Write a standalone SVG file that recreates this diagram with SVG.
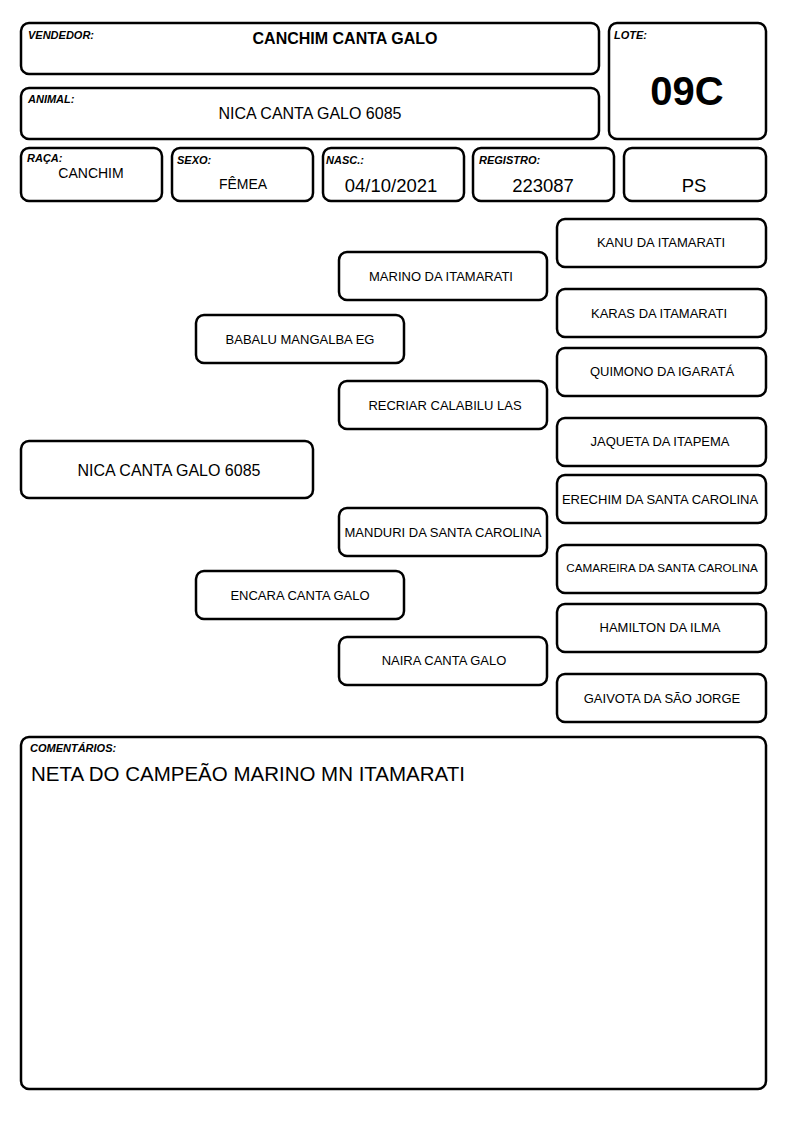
<svg xmlns="http://www.w3.org/2000/svg" width="794" height="1123" viewBox="0 0 794 1123">
<style>
.b{fill:#fff;stroke:#000;stroke-width:2.5}
.l{font-family:"Liberation Sans",Arial,sans-serif;font-size:11px;font-weight:bold;font-style:italic;fill:#000}
.t{font-family:"Liberation Sans",Arial,sans-serif;fill:#000;text-anchor:middle}
.p{font-family:"Liberation Sans",Arial,sans-serif;font-size:13px;fill:#000;text-anchor:middle}
.s{font-size:11.7px}
</style>
<rect width="794" height="1123" fill="#fff"/>
<g id="vendedor"><rect class="b" x="21" y="23" width="578" height="51" rx="8"/><text class="l" x="28" y="39">VENDEDOR:</text><text class="t" x="345" y="44" font-size="16" font-weight="bold">CANCHIM CANTA GALO</text></g>
<g id="lote"><rect class="b" x="609" y="23" width="157" height="116" rx="8"/><text class="l" x="614" y="39">LOTE:</text><text class="t" x="687" y="105" font-size="40" font-weight="bold">09C</text></g>
<g id="animal"><rect class="b" x="21" y="88" width="578" height="51" rx="8"/><text class="l" x="28" y="103">ANIMAL:</text><text class="t" x="310" y="119" font-size="16">NICA CANTA GALO 6085</text></g>
<g id="raca"><rect class="b" x="21" y="148" width="141" height="53" rx="8"/><text class="l" x="27" y="162">RAÇA:</text><text class="t" x="91" y="178" font-size="14">CANCHIM</text></g>
<g id="sexo"><rect class="b" x="172" y="148" width="141" height="53" rx="8"/><text class="l" x="177" y="164">SEXO:</text><text class="t" x="243" y="189" font-size="14">FÊMEA</text></g>
<g id="nasc"><rect class="b" x="323" y="148" width="141" height="53" rx="8"/><text class="l" x="326" y="164">NASC.:</text><text class="t" x="391" y="192" font-size="18.5">04/10/2021</text></g>
<g id="registro"><rect class="b" x="473" y="148" width="141" height="53" rx="8"/><text class="l" x="479" y="164">REGISTRO:</text><text class="t" x="543" y="192" font-size="18.5">223087</text></g>
<g id="ps"><rect class="b" x="624" y="148" width="142" height="53" rx="8"/><text class="t" x="694" y="192" font-size="18.5">PS</text></g>
<g id="n-nica"><rect class="b" x="21" y="441" width="292" height="57" rx="8"/><text class="t" x="169" y="476" font-size="16">NICA CANTA GALO 6085</text></g>
<g id="n-babalu"><rect class="b" x="196" y="315" width="208" height="48" rx="8"/><text class="p" x="300" y="344">BABALU MANGALBA EG</text></g>
<g id="n-encara"><rect class="b" x="196" y="571" width="208" height="48" rx="8"/><text class="p" x="300" y="600">ENCARA CANTA GALO</text></g>
<g id="n-marino"><rect class="b" x="339" y="252" width="208" height="48" rx="8"/><text class="p" x="441" y="281">MARINO DA ITAMARATI</text></g>
<g id="n-recriar"><rect class="b" x="339" y="381" width="208" height="48" rx="8"/><text class="p" x="445" y="410">RECRIAR CALABILU LAS</text></g>
<g id="n-manduri"><rect class="b" x="339" y="508" width="208" height="48" rx="8"/><text class="p" x="443" y="537">MANDURI DA SANTA CAROLINA</text></g>
<g id="n-naira"><rect class="b" x="339" y="637" width="208" height="48" rx="8"/><text class="p" x="444" y="665">NAIRA CANTA GALO</text></g>
<g id="n-kanu"><rect class="b" x="557" y="219" width="209" height="48" rx="8"/><text class="p" x="661" y="247">KANU DA ITAMARATI</text></g>
<g id="n-karas"><rect class="b" x="557" y="289" width="209" height="48" rx="8"/><text class="p" x="659" y="318">KARAS DA ITAMARATI</text></g>
<g id="n-quimono"><rect class="b" x="557" y="348" width="209" height="48" rx="8"/><text class="p" x="662" y="376">QUIMONO DA IGARATÁ</text></g>
<g id="n-jaqueta"><rect class="b" x="557" y="418" width="209" height="48" rx="8"/><text class="p" x="660" y="446">JAQUETA DA ITAPEMA</text></g>
<g id="n-erechim"><rect class="b" x="557" y="475" width="209" height="48" rx="8"/><text class="p" x="660" y="504">ERECHIM DA SANTA CAROLINA</text></g>
<g id="n-camareira"><rect class="b" x="557" y="545" width="209" height="48" rx="8"/><text class="p s" x="662" y="572">CAMAREIRA DA SANTA CAROLINA</text></g>
<g id="n-hamilton"><rect class="b" x="557" y="604" width="209" height="48" rx="8"/><text class="p" x="660" y="632">HAMILTON DA ILMA</text></g>
<g id="n-gaivota"><rect class="b" x="557" y="674" width="209" height="48" rx="8"/><text class="p" x="662" y="703">GAIVOTA DA SÃO JORGE</text></g>
<g id="connectors"></g>
<g id="comentarios"><rect class="b" x="21" y="737" width="745" height="352" rx="8"/><text class="l" x="30" y="752">COMENTÁRIOS:</text><text x="31" y="781" font-family="Liberation Sans,Arial,sans-serif" font-size="20.5">NETA DO CAMPEÃO MARINO MN ITAMARATI</text></g>
</svg>
